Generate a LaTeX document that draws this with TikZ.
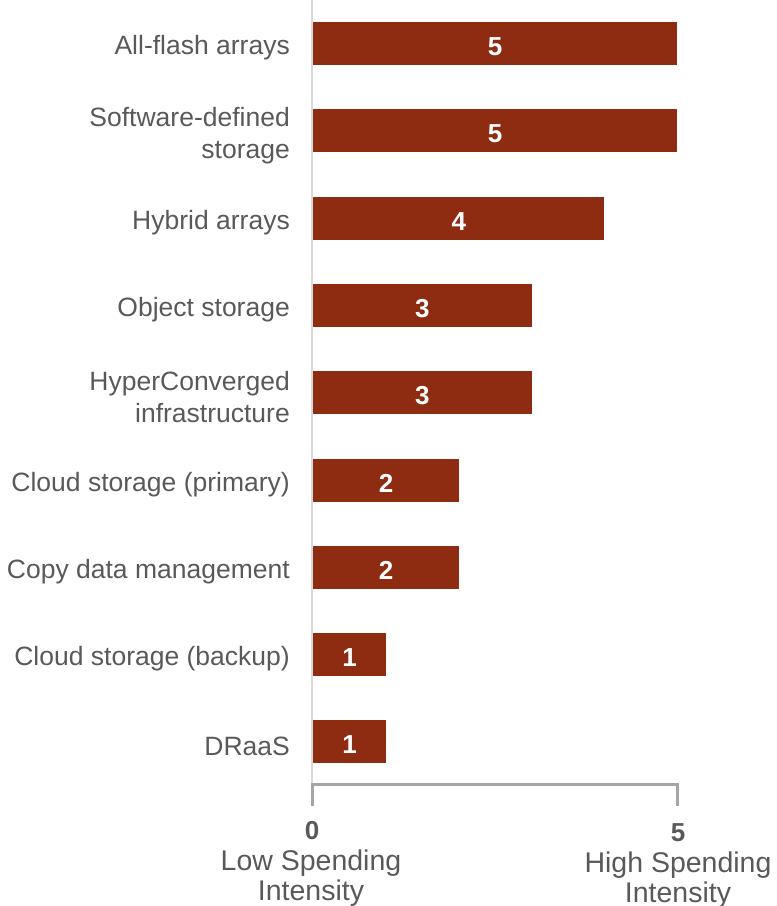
\documentclass[tikz,border=0pt]{standalone}
\usepackage{fontspec}
\setmainfont{Liberation Sans}
\definecolor{barred}{HTML}{8E2C12}
\definecolor{txtgray}{HTML}{595959}
\definecolor{axlight}{HTML}{D9D9D9}
\definecolor{axgray}{HTML}{A6A6A6}
\begin{document}
\begin{tikzpicture}[x=1pt,y=-1pt,
  bar/.style={fill=barred,draw=none,anchor=west,minimum height=43pt,inner sep=0pt,text=white},
  num/.style={text=white,inner sep=0pt,font=\fontsize{26}{28}\selectfont\bfseries},
  cat/.style={anchor=east,align=right,text=txtgray,inner sep=0pt,font=\fontsize{26.5}{32}\selectfont},
  tick/.style={text=txtgray,inner sep=0pt,font=\fontsize{26}{30}\selectfont\bfseries},
  axlab/.style={text=txtgray,align=center,inner sep=0pt,font=\fontsize{28.5}{30}\selectfont}]
\useasboundingbox[clip] (0,0) rectangle (777,906);
\draw[axlight,line width=2pt] (312,0) -- (312,784);
\foreach \v/\t [count=\i from 0] in {5/All-flash arrays,5/{Software-defined\\storage},4/Hybrid arrays,3/Object storage,3/{HyperConverged\\infrastructure},2/Cloud storage (primary),2/Copy data management,1/Cloud storage (backup),1/DRaaS}{
  \node[bar,minimum width=72.8*\v pt] (b\i) at (313,{43.5+87.3*\i}) {};
  \node[num] (v\i) at ([yshift=-3pt]b\i.center) {\v};
  \node[cat] (c\i) at (290,{48+87.3*\i}) {\t};
}
\coordinate (a0) at (312,784);
\coordinate (a5) at (677,784);
\coordinate (t0) at (312,806);
\coordinate (t5) at (677,806);
\draw[axgray,line width=3pt] (t0) -- (a0) -- (a5) -- (t5);
\node[tick] (n0) at (312,831) {0};
\node[tick] (n5) at (678,833) {5};
\node[axlab] (low) at (311,878) {Low Spending\\Intensity};
\node[axlab] (high) at (678,880) {High Spending\\Intensity};
\end{tikzpicture}
\end{document}
